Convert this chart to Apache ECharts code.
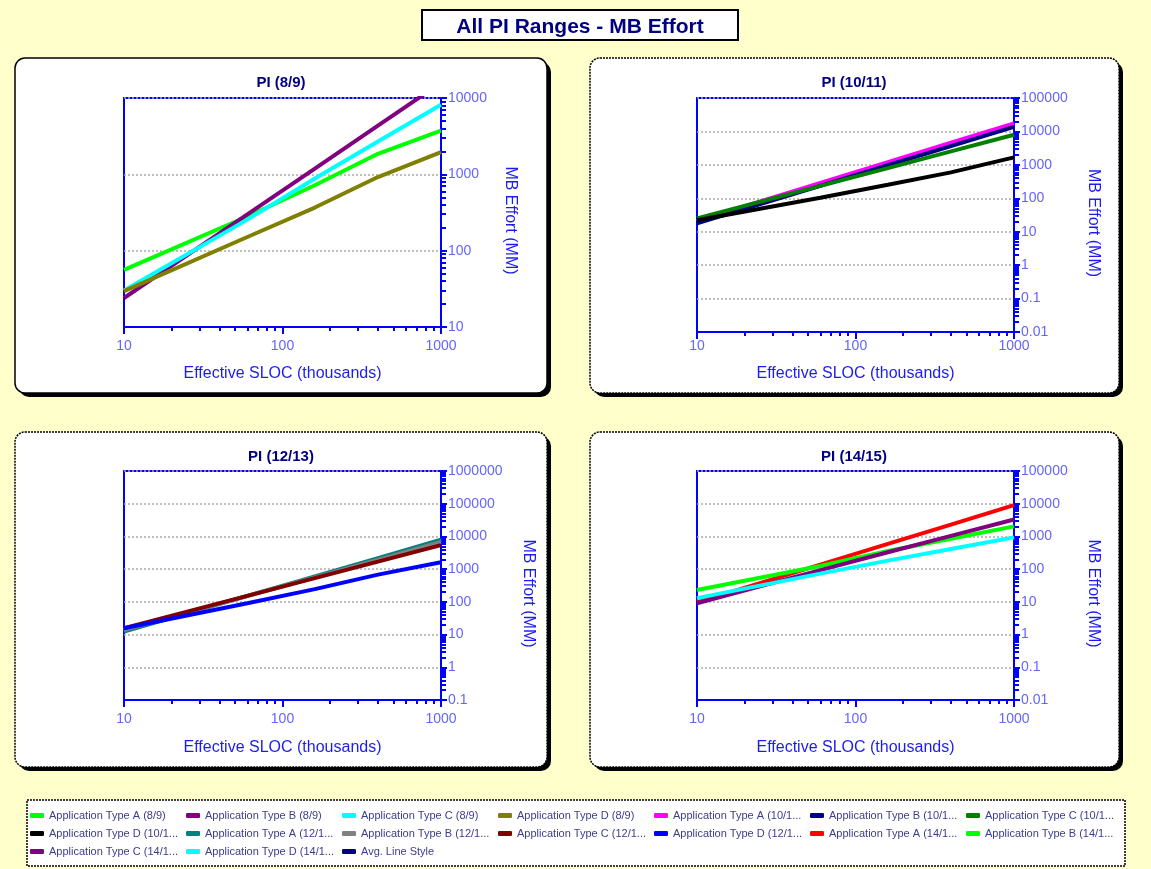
<!DOCTYPE html>
<html>
<head>
<meta charset="utf-8">
<title>All PI Ranges - MB Effort</title>
<script src="https://cdn.jsdelivr.net/npm/echarts@6/dist/echarts.min.js"></script>
<style>
  html, body { margin: 0; padding: 0; background: #ffffcc; }
  #chart { width: 1151px; height: 869px; }
</style>
</head>
<body>
<div id="chart"></div>
<script>
// effective SLOC (thousands) where the curves were read
const sloc = [10, 60, 160, 400, 1000];

// MB effort (MM), PI 8/9
const appA89 = [56, 280, 720, 1860, 3750];
const appB89 = [24, 299, 1190, 4350, 15800];
const appC89 = [30, 255, 880, 2690, 8180];
const appD89 = [29.5, 151, 367, 922, 1950];
// PI 10/11
const appA1011 = [21, 286, 1200, 4580, 17400];
const appB1011 = [17.8, 236, 974, 3630, 13700];
const appC1011 = [25, 235, 802, 2530, 7950];
const appD1011 = [22, 104, 253, 597, 1680];
// PI 12/13
const appA1213 = [12.3, 152, 603, 2180, 7900];
const appB1213 = [13.8, 151, 562, 1900, 6800];
const appC1213 = [15.8, 153, 529, 1690, 5400];
const appD1213 = [15.6, 91, 245, 680, 1620];
// PI 14/15
const appA1415 = [9.6, 137, 591, 2300, 9000];
const appB1415 = [23, 125, 358, 853, 2030];
const appC1415 = [9.1, 93, 329, 1040, 3300];
const appD1415 = [13, 73, 182, 413, 935];

const panelTitles = ['PI (8/9)', 'PI (10/11)', 'PI (12/13)', 'PI (14/15)'];
const yMins = [10, 0.01, 0.1, 0.01];
const yMaxs = [10000, 100000, 1000000, 100000];

const chart = echarts.init(document.getElementById('chart'));

const font = 'Liberation Sans, Arial';
const blue = '#0000ff';
const labelBlue = '#6464ff';
const nameBlue = '#1c1cf0';
const navy = '#000080';

// layout of the four panels
const panels = [
  { x: 15, y: 58, w: 532, h: 335, dash: null },
  { x: 590, y: 58, w: 529, h: 335, dash: [2, 1] },
  { x: 15, y: 432, w: 532, h: 335, dash: [2, 1] },
  { x: 590, y: 432, w: 529, h: 335, dash: [2, 1] }
];
const grids = [
  { left: 124, top: 98, width: 317, height: 229 },
  { left: 697, top: 98, width: 317, height: 234 },
  { left: 124, top: 471, width: 317, height: 229 },
  { left: 697, top: 471, width: 317, height: 229 }
];
const xLabelMargins = [12, 7, 12, 12];
const xNameGaps = [39, 34, 40, 40];
const yNameGaps = [61, 71, 79, 71];

function toPairs (vals) {
  return vals.map((v, i) => [sloc[i], v]);
}

function numLabel (v) {
  return String(+Number(v).toPrecision(6));
}

const seriesDefs = [
  ['Application Type A (8/9)', '#00ff00', appA89, 0],
  ['Application Type B (8/9)', '#800080', appB89, 0],
  ['Application Type C (8/9)', '#00ffff', appC89, 0],
  ['Application Type D (8/9)', '#808000', appD89, 0],
  ['Application Type A (10/11)', '#ff00ff', appA1011, 1],
  ['Application Type B (10/11)', '#000080', appB1011, 1],
  ['Application Type C (10/11)', '#008000', appC1011, 1],
  ['Application Type D (10/11)', '#000000', appD1011, 1],
  ['Application Type A (12/13)', '#008080', appA1213, 2],
  ['Application Type B (12/13)', '#808080', appB1213, 2],
  ['Application Type C (12/13)', '#800000', appC1213, 2],
  ['Application Type D (12/13)', '#0000ff', appD1213, 2],
  ['Application Type A (14/15)', '#ff0000', appA1415, 3],
  ['Application Type B (14/15)', '#00ff00', appB1415, 3],
  ['Application Type C (14/15)', '#800080', appC1415, 3],
  ['Application Type D (14/15)', '#00ffff', appD1415, 3],
  ['Avg. Line Style', '#000080', [], 0]
];

const graphics = [];
panels.forEach(p => {
  graphics.push({
    type: 'rect', z: -10,
    shape: { x: p.x + 4, y: p.y + 4, width: p.w, height: p.h, r: 10 },
    style: { fill: '#000' }
  });
  graphics.push({
    type: 'rect', z: -9,
    shape: { x: p.x, y: p.y, width: p.w, height: p.h, r: 10 },
    style: { fill: '#fff', stroke: '#000', lineWidth: 1.5, lineDash: p.dash }
  });
});
// title box
graphics.push({
  type: 'rect', z: -9,
  shape: { x: 422, y: 10, width: 316, height: 30 },
  style: { fill: '#fff', stroke: '#000', lineWidth: 2 }
});
// legend box
graphics.push({
  type: 'rect', z: -9,
  shape: { x: 27, y: 800, width: 1098, height: 66 },
  style: { fill: '#fff', stroke: '#000', lineWidth: 1.5, lineDash: [2, 1] }
});

const titles = [{
  text: 'All PI Ranges - MB Effort',
  left: 580, top: 17, padding: 0, textAlign: 'center',
  textStyle: { fontFamily: font, fontSize: 21, fontWeight: 'bold', color: navy }
}];
const panelTitlePos = [[281, 75], [854, 75], [281, 449], [854, 449]];
panelTitles.forEach((t, i) => {
  titles.push({
    text: t,
    left: panelTitlePos[i][0], top: panelTitlePos[i][1], padding: 0, textAlign: 'center',
    textStyle: { fontFamily: font, fontSize: 15, fontWeight: 'bold', color: navy }
  });
});

const option = {
  backgroundColor: '#ffffcc',
  animation: false,
  title: titles,
  graphic: graphics,
  legend: {
    left: 30,
    top: 810,
    width: 1100,
    padding: 0,
    itemWidth: 14,
    itemHeight: 5,
    itemGap: 7,
    icon: 'roundRect',
    formatter: name => '{t|' + (name.length > 24 ? name.slice(0, 24) + '...' : name) + '}',
    textStyle: {
      rich: {
        t: { width: 130, height: 11, lineHeight: 11, fontFamily: font, fontSize: 11, color: '#3c3c8c' }
      }
    },
    data: seriesDefs.map(d => d[0])
  },
  grid: grids.map(g => Object.assign({ show: true, borderColor: blue, borderWidth: 2 }, g)),
  xAxis: grids.map((g, i) => ({
    type: 'log',
    gridIndex: i,
    min: 10,
    max: 1000,
    name: 'Effective SLOC (thousands)',
    nameLocation: 'middle',
    nameGap: xNameGaps[i],
    nameTextStyle: { fontFamily: font, fontSize: 16, color: nameBlue },
    axisLine: { lineStyle: { color: blue, width: 2 } },
    axisTick: { length: 7, lineStyle: { color: blue, width: 2 } },
    minorTick: { show: true, splitNumber: 9, length: 4, lineStyle: { color: blue, width: 2 } },
    axisLabel: { color: labelBlue, fontFamily: font, fontSize: 14, margin: xLabelMargins[i], formatter: numLabel },
    splitLine: { show: false }
  })),
  yAxis: grids.map((g, i) => ({
    type: 'log',
    gridIndex: i,
    position: 'right',
    min: yMins[i],
    max: yMaxs[i],
    name: 'MB Effort (MM)',
    nameLocation: 'middle',
    nameRotate: -90,
    nameGap: yNameGaps[i],
    nameTextStyle: { fontFamily: font, fontSize: 16, color: nameBlue, padding: [0, 0, 0, 16] },
    axisLine: { lineStyle: { color: blue, width: 2 } },
    axisTick: { length: 6, lineStyle: { color: blue, width: 2 } },
    minorTick: { show: true, splitNumber: 9, length: 5, lineStyle: { color: blue, width: 2 } },
    axisLabel: { color: labelBlue, fontFamily: font, fontSize: 14, margin: 7, formatter: numLabel },
    splitLine: { show: true, lineStyle: { color: '#aaaaaa', width: 1.5, type: [2, 2] } }
  })),
  series: seriesDefs.map(d => ({
    name: d[0],
    type: 'line',
    xAxisIndex: d[3],
    yAxisIndex: d[3],
    color: d[1],
    showSymbol: false,
    symbol: 'none',
    clip: true,
    lineStyle: { width: 4, color: d[1] },
    data: toPairs(d[2])
  }))
};

chart.setOption(option);
</script>
</body>
</html>
